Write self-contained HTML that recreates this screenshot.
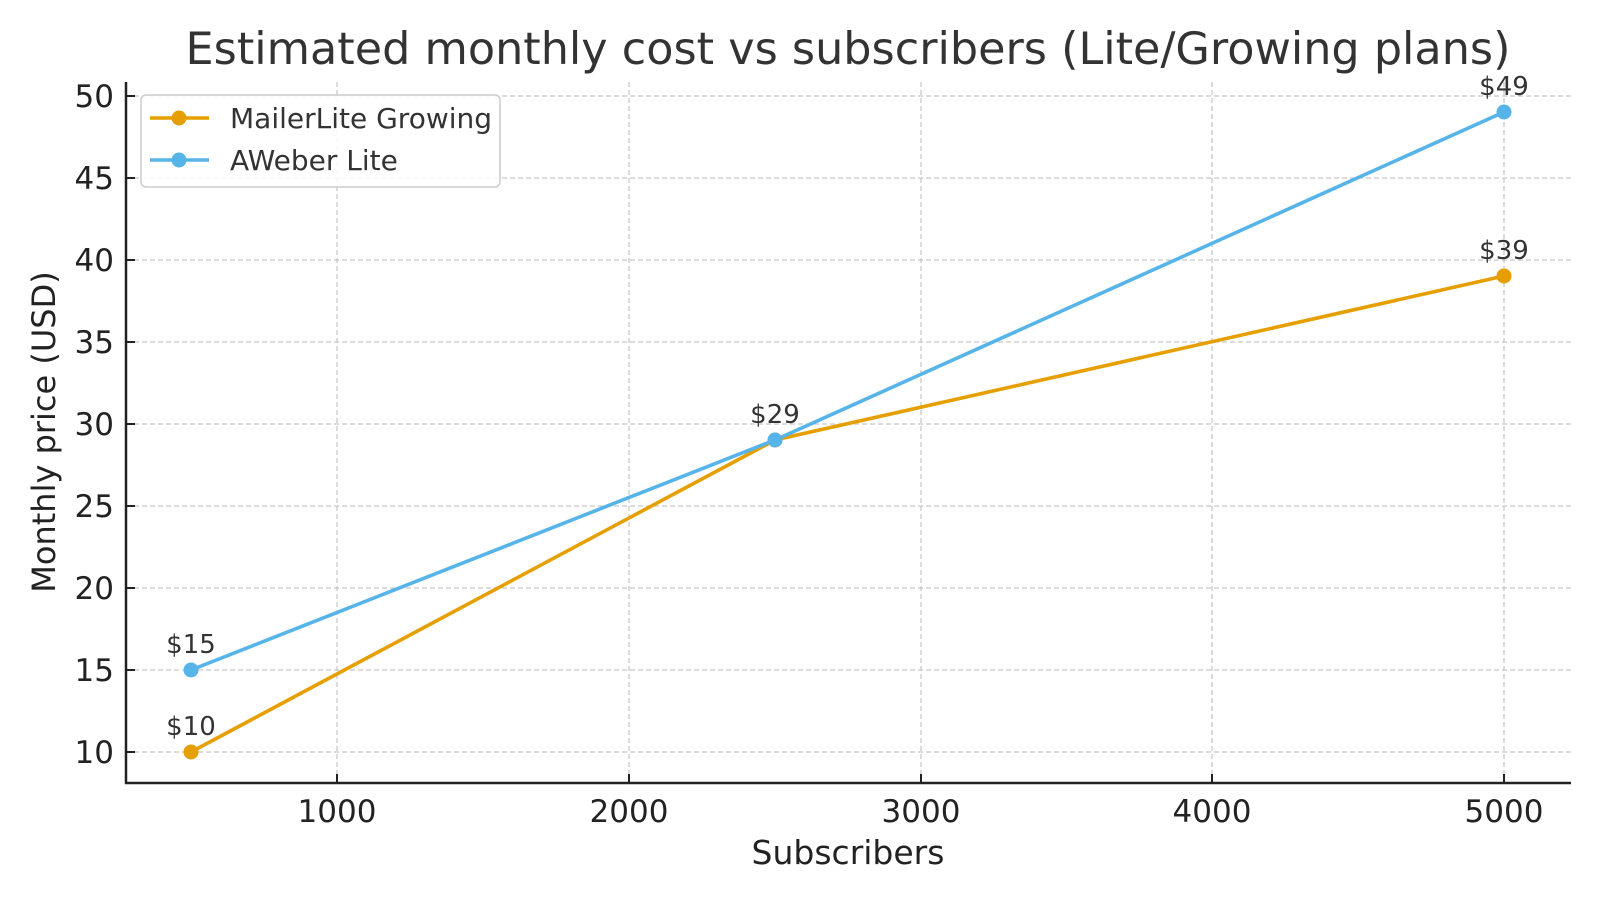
<!DOCTYPE html>
<html><head><meta charset="utf-8"><style>html,body{margin:0;padding:0;background:#fff}</style></head>
<body>
<svg width="1600" height="900" xmlns="http://www.w3.org/2000/svg" font-family="'DejaVu Sans','Liberation Sans',sans-serif">
<rect width="1600" height="900" fill="#fff"/>
<text x="848" y="64" font-size="44.5" fill="#333" text-anchor="middle">Estimated monthly cost vs subscribers (Lite/Growing plans)</text>
<g stroke="#c8c8c8" stroke-width="1.3" stroke-dasharray="5,3">
<line x1="337" y1="82" x2="337" y2="783"/><line x1="629" y1="82" x2="629" y2="783"/><line x1="921" y1="82" x2="921" y2="783"/><line x1="1212" y1="82" x2="1212" y2="783"/><line x1="1504" y1="82" x2="1504" y2="783"/>
<line x1="126" y1="96" x2="1571" y2="96"/><line x1="126" y1="178" x2="1571" y2="178"/><line x1="126" y1="260" x2="1571" y2="260"/><line x1="126" y1="342" x2="1571" y2="342"/><line x1="126" y1="424" x2="1571" y2="424"/><line x1="126" y1="506" x2="1571" y2="506"/><line x1="126" y1="588" x2="1571" y2="588"/><line x1="126" y1="670" x2="1571" y2="670"/><line x1="126" y1="752" x2="1571" y2="752"/>
</g>
<g stroke="#222" stroke-width="2.5"><line x1="126" y1="82" x2="126" y2="784"/><line x1="125" y1="783" x2="1571" y2="783"/></g>
<g stroke="#222" stroke-width="2">
<line x1="337" y1="783" x2="337" y2="774"/><line x1="629" y1="783" x2="629" y2="774"/><line x1="921" y1="783" x2="921" y2="774"/><line x1="1212" y1="783" x2="1212" y2="774"/><line x1="1504" y1="783" x2="1504" y2="774"/>
<line x1="126" y1="96" x2="135" y2="96"/><line x1="126" y1="178" x2="135" y2="178"/><line x1="126" y1="260" x2="135" y2="260"/><line x1="126" y1="342" x2="135" y2="342"/><line x1="126" y1="424" x2="135" y2="424"/><line x1="126" y1="506" x2="135" y2="506"/><line x1="126" y1="588" x2="135" y2="588"/><line x1="126" y1="670" x2="135" y2="670"/><line x1="126" y1="752" x2="135" y2="752"/>
</g>
<g font-size="31" fill="#222" text-anchor="middle">
<text x="337" y="822">1000</text><text x="629" y="822">2000</text><text x="921" y="822">3000</text><text x="1212" y="822">4000</text><text x="1504" y="822">5000</text>
</g>
<g font-size="31" fill="#222" text-anchor="end">
<text x="114" y="107">50</text><text x="114" y="189">45</text><text x="114" y="271">40</text><text x="114" y="353">35</text><text x="114" y="435">30</text><text x="114" y="517">25</text><text x="114" y="599">20</text><text x="114" y="681">15</text><text x="114" y="763">10</text>
</g>
<text x="848" y="864" font-size="33" fill="#222" text-anchor="middle">Subscribers</text>
<text transform="translate(55,432) rotate(-90)" font-size="32" fill="#222" text-anchor="middle">Monthly price (USD)</text>
<polyline points="191,752 775,440 1504,276" fill="none" stroke="#e69f00" stroke-width="3.6"/>
<polyline points="191,670 775,440 1504,112" fill="none" stroke="#56b4e9" stroke-width="3.6"/>
<g fill="#e69f00"><circle cx="191" cy="752" r="7.5"/><circle cx="775" cy="440" r="7.5"/><circle cx="1504" cy="276" r="7.5"/></g>
<g fill="#56b4e9"><circle cx="191" cy="670" r="7.5"/><circle cx="775" cy="440" r="7.5"/><circle cx="1504" cy="112" r="7.5"/></g>
<g font-size="26" fill="#333" text-anchor="middle">
<text x="191" y="735">$10</text><text x="191" y="653">$15</text><text x="775" y="423">$29</text><text x="1504" y="259">$39</text><text x="1504" y="95">$49</text>
</g>
<rect x="141" y="95" width="359" height="92" rx="5" fill="#fff" fill-opacity="0.85" stroke="#ccc" stroke-width="1.5"/>
<line x1="150" y1="118" x2="209" y2="118" stroke="#e69f00" stroke-width="3.6"/><circle cx="179" cy="118" r="7.5" fill="#e69f00"/>
<line x1="150" y1="160" x2="209" y2="160" stroke="#56b4e9" stroke-width="3.6"/><circle cx="179" cy="160" r="7.5" fill="#56b4e9"/>
<text x="230" y="128" font-size="28" fill="#333">MailerLite Growing</text>
<text x="230" y="170" font-size="28" fill="#333">AWeber Lite</text>
</svg>
</body></html>
